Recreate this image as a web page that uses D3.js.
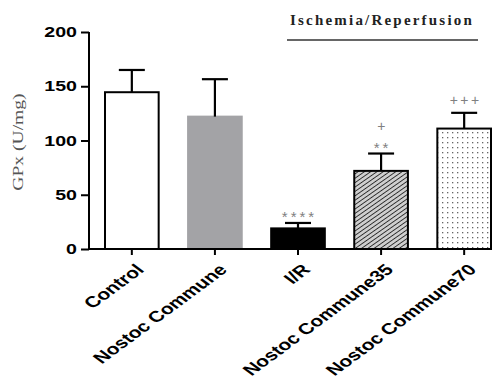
<!DOCTYPE html>
<html>
<head>
<meta charset="utf-8">
<script src="https://cdn.jsdelivr.net/npm/d3@7"></script>
<style>
  body { margin: 0; background: #fff; }
  svg { display: block; }
</style>
</head>
<body>
<div id="chart"></div>
<script>
// data
let groups = ["Control", "Nostoc Commune", "I/R", "Nostoc Commune35", "Nostoc Commune70"];
let means = [144.5, 122, 19, 72, 111];
let errors = [20.5, 34.5, 5, 16, 14.5];
let marks = ["", "", "****", "+\n**", "+++"];
let yTicks = [0, 50, 100, 150, 200];

let width = 504, height = 381;
let sans = "Liberation Sans, Arial, sans-serif";
let serif = "Liberation Serif, Times New Roman, serif";
let stretch = 1.35; // the original figure is stretched sideways

let svg = d3.select("#chart").append("svg")
    .attr("width", width)
    .attr("height", height);

let defs = svg.append("defs");

// diagonal hatch for NC35
let hatch = defs.append("pattern")
    .attr("id", "hatch")
    .attr("patternUnits", "userSpaceOnUse")
    .attr("width", 3.6)
    .attr("height", 3.6)
    .attr("patternTransform", "rotate(55)");
hatch.append("rect").attr("width", 3.6).attr("height", 3.6).attr("fill", "#cfcfcf");
hatch.append("line")
    .attr("x1", 0).attr("y1", 0).attr("x2", 0).attr("y2", 3.6)
    .attr("stroke", "#2a2a2a").attr("stroke-width", 1.8);

// dotted fill for NC70
let dots = defs.append("pattern")
    .attr("id", "dots")
    .attr("patternUnits", "userSpaceOnUse")
    .attr("width", 5)
    .attr("height", 5);
dots.append("rect").attr("width", 5).attr("height", 5).attr("fill", "#fff");
dots.append("rect").attr("x", 2).attr("y", 2).attr("width", 1.3).attr("height", 1.3).attr("fill", "#666");

let fills = ["#fff", "#a3a3a6", "#000", "url(#hatch)", "url(#dots)"];
let strokes = ["#000", "#a3a3a6", "#000", "#000", "#000"];

let x = d3.scaleBand()
    .domain(groups)
    .range([104, 492])
    .paddingInner(0.33)
    .paddingOuter(0);

let y = d3.scaleLinear()
    .domain([0, 200])
    .range([249, 32]);

// y axis
let yAxis = svg.append("g")
    .attr("transform", "translate(89,0)")
    .call(d3.axisLeft(y).tickValues(yTicks).tickSize(8).tickFormat(""));
yAxis.select(".domain").attr("stroke-width", 2).attr("d", "M0," + y(200) + "V" + y(0));
yAxis.selectAll(".tick line").attr("stroke-width", 2);

svg.append("g").selectAll("text")
    .data(yTicks)
    .join("text")
    .attr("transform", d => "translate(77," + y(d) + ") scale(" + stretch + ",1)")
    .attr("dy", "0.36em")
    .attr("text-anchor", "end")
    .attr("font-family", sans)
    .attr("font-weight", "bold")
    .attr("font-size", 14.5)
    .text(d => d);

// bars
svg.append("g").selectAll("rect")
    .data(groups)
    .join("rect")
    .attr("x", d => x(d) + 1)
    .attr("width", x.bandwidth() - 2)
    .attr("y", (d, i) => y(means[i]))
    .attr("height", (d, i) => y(0) - y(means[i]))
    .attr("fill", (d, i) => fills[i])
    .attr("stroke", (d, i) => strokes[i])
    .attr("stroke-width", 2);

// error bars (upper only)
let eb = svg.append("g").attr("stroke", "#000").attr("stroke-width", 2.2);
groups.forEach((g, i) => {
    let cx = x(g) + x.bandwidth() / 2;
    eb.append("line")
        .attr("x1", cx).attr("x2", cx)
        .attr("y1", y(means[i])).attr("y2", y(means[i] + errors[i]));
    eb.append("line")
        .attr("x1", cx - 13).attr("x2", cx + 13)
        .attr("y1", y(means[i] + errors[i])).attr("y2", y(means[i] + errors[i]));
});

// significance marks, placed by visual centre above the error cap
groups.forEach((g, i) => {
    if (!marks[i]) return;
    let cx = x(g) + x.bandwidth() / 2;
    let top = y(means[i] + errors[i]);
    let lines = marks[i].split("\n").reverse();
    lines.forEach((t, k) => {
        let star = t.startsWith("*");
        let centre = top - (star ? 9.5 : 13) - k * 14.5;
        svg.append("text")
            .attr("x", cx + 1.5)
            .attr("y", centre + (star ? 8.5 : 4.8))
            .attr("text-anchor", "middle")
            .attr("font-family", sans)
            .attr("font-size", star ? 15 : 14)
            .attr("letter-spacing", star ? 3 : 2.5)
            .attr("fill", "#808080")
            .text(t);
    });
});

// x axis
let xAxis = svg.append("g")
    .attr("transform", "translate(0," + y(0) + ")");
xAxis.append("line")
    .attr("x1", 88).attr("x2", 492)
    .attr("stroke", "#000").attr("stroke-width", 2.2);
groups.forEach(g => {
    let cx = x(g) + x.bandwidth() / 2;
    xAxis.append("line")
        .attr("x1", cx).attr("x2", cx).attr("y1", 0).attr("y2", 6)
        .attr("stroke", "#000").attr("stroke-width", 2);
    xAxis.append("text")
        .attr("transform", "translate(" + (cx + 3) + ",14) scale(" + stretch + ",1) rotate(-45)")
        .attr("text-anchor", "end")
        .attr("dy", "0.7em")
        .attr("font-family", sans)
        .attr("font-weight", "bold")
        .attr("font-size", 15.5)
        .text(g);
});

// y label
svg.append("text")
    .attr("transform", "translate(23,142) rotate(-90) scale(" + stretch + ",1)")
    .attr("text-anchor", "middle")
    .attr("font-family", serif)
    .attr("font-size", 14.5)
    .attr("fill", "#555")
    .text("GPx (U/mg)");

// Ischemia/Reperfusion bracket
svg.append("text")
    .attr("x", 382)
    .attr("y", 25)
    .attr("text-anchor", "middle")
    .attr("font-family", serif)
    .attr("font-weight", "bold")
    .attr("font-size", 15)
    .attr("letter-spacing", 2.2)
    .attr("fill", "#222")
    .text("Ischemia/Reperfusion");
svg.append("line")
    .attr("x1", 287).attr("x2", 478)
    .attr("y1", 40).attr("y2", 40)
    .attr("stroke", "#333").attr("stroke-width", 1.3);
</script>
</body>
</html>
